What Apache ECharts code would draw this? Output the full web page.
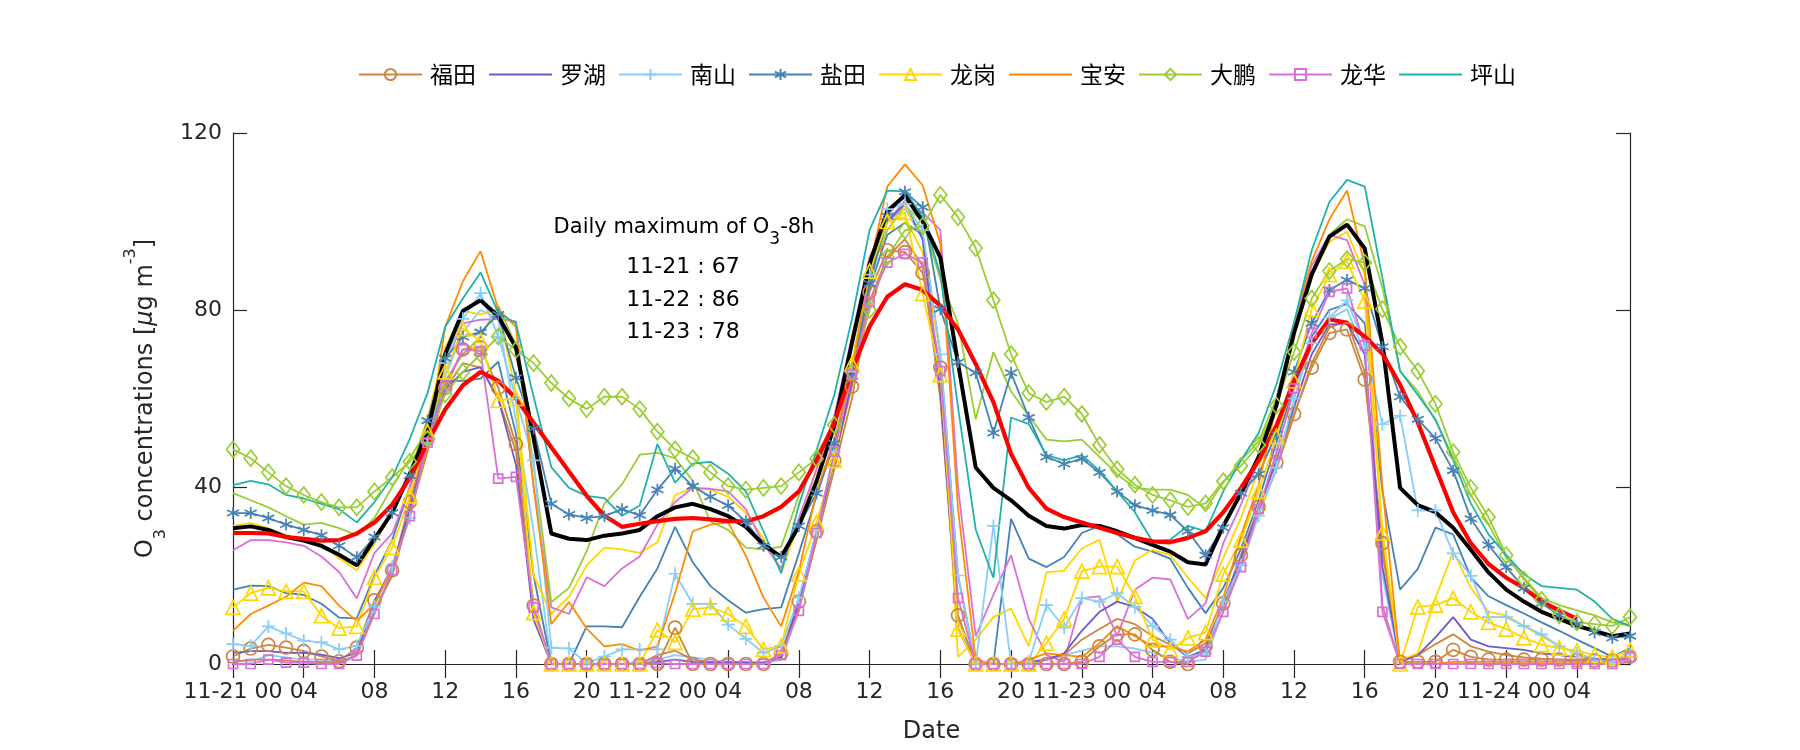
<!DOCTYPE html>
<html>
<head>
<meta charset="utf-8">
<script src="https://cdn.jsdelivr.net/npm/echarts@6/dist/echarts.min.js"></script>
<style>html,body{margin:0;padding:0;background:#fff;}#c{width:1800px;height:750px;}</style>
</head>
<body>
<div id="c"></div>
<script>
const categories = [
'11-21 00','11-21 01','11-21 02','11-21 03','11-21 04','11-21 05','11-21 06','11-21 07','11-21 08','11-21 09','11-21 10','11-21 11',
'11-21 12','11-21 13','11-21 14','11-21 15','11-21 16','11-21 17','11-21 18','11-21 19','11-21 20','11-21 21','11-21 22','11-21 23',
'11-22 00','11-22 01','11-22 02','11-22 03','11-22 04','11-22 05','11-22 06','11-22 07','11-22 08','11-22 09','11-22 10','11-22 11',
'11-22 12','11-22 13','11-22 14','11-22 15','11-22 16','11-22 17','11-22 18','11-22 19','11-22 20','11-22 21','11-22 22','11-22 23',
'11-23 00','11-23 01','11-23 02','11-23 03','11-23 04','11-23 05','11-23 06','11-23 07','11-23 08','11-23 09','11-23 10','11-23 11',
'11-23 12','11-23 13','11-23 14','11-23 15','11-23 16','11-23 17','11-23 18','11-23 19','11-23 20','11-23 21','11-23 22','11-23 23',
'11-24 00','11-24 01','11-24 02','11-24 03','11-24 04','11-24 05','11-24 06','11-24 07'];
const xTickLabels = ['11-21 00','04','08','12','16','20','11-22 00','04','08','12','16','20',
  '11-23 00','04','08','12','16','20','11-24 00','04'];
const yTicks = [0, 40, 80, 120];
const annotationLines = ['11-21 : 67', '11-22 : 86', '11-23 : 78'];

// district series (marked, in legend)
const futian = [1.7,3.5,4.3,3.7,2.9,1.7,0.6,3.7, 14.4,21.2,36.6,50.9,62.4,71.1,71.5,62.4, 49.7,13.2,0,0,0,0,0,0,
  0,8.2,0,0,0,0,0,2.5, 14.1,30,46,62.7,84.1,93.5,93.1,88.4, 67,11,0,0,0,0,0,0,
  0.5,4,6.7,6.7,3.2,0.5,0,4, 13.7,24.6,35.5,45.6,56.5,67,74.8,75.6, 64.3,27.3,0.5,0.5,0.5,3.2,1.6,1,
  1,1,1,1,0.8,0.8,0.8,1.6];
const luohu = [2.5,2.9,2.9,2.5,2.5,2.1,1.3,2.5, 14,22,35,50,62,66,67.1,60, 45,10,0,0,0,0,0,0,
  0.5,1,0.5,0.3,0.3,0.3,0.3,1.5, 14,30,46,64,88,100,104,96, 62,8,0,0,0,0.5,1,2.4,
  7.5,11.8,14.1,12.9,10.2,4.7,1.6,3.2, 14,24,35,46,58,70,76.7,77, 70,22,0.5,2,6,10.6,5.5,4,
  3.6,3.2,2.4,2,1.5,1.2,1,1.5];
const nanshan = [4.5,4.1,8.5,6.9,5.3,4.9,3.3,4.1, 13,22,33,50,68,78,83.8,74, 60,46,3.7,3.5,0.2,1.7,3.3,3.3,
  3.3,20.4,13.6,13.6,8.9,5.7,2.5,4.1, 15,30,48,66,88,102.8,104,98, 70,20,0,31.2,0,0.5,13.3,8.2,
  14.9,14.1,16,12.9,8.6,5.5,1.6,2.4, 14.1,22.3,33.5,44.4,60,72.5,78.3,82.2, 72,54.2,56.1,34.7,34.7,25,19.9,10.6,
  10.6,8.6,6.7,4,2.4,0.9,0.5,2.4];
const yantian = [34.1,34.1,33,31.5,30.3,29.1,26.7,24.1, 28.7,34.2,42.6,55,69.1,73.9,75,79, 64.7,53.2,36.2,33.8,33,33.4,35,33.6,
  39.4,44.1,40.2,37.8,35.8,32.2,26.7,24.2, 31.2,38.6,49.9,65,86,101.2,106.7,103.2, 80.2,68.2,65.8,52.2,65.8,55.7,46.8,45.2,
  46.4,43.3,39,35.9,34.7,33.7,30,24.6, 30.8,38.6,42.9,52,66,77,84.5,86.8, 84.9,71.7,60.4,55.3,51,43.7,32.8,26.9,
  21.9,17.2,13.7,11,9,7.1,5.9,6.3];
const longgang = [12.8,16,17.2,16.4,16.4,10.9,8.1,8.5, 19.6,26.3,38,52.5,66,75.8,73,59.6, 60,11.6,0,0,0,0,0,0,
  7.7,4.9,12.4,12.8,11.3,8.5,3.3,4.1, 20.3,32,46,67.8,88.8,100,102,83.7, 65.4,7.9,0,0,0,0,4.7,10.2,
  21,22,22,15.3,5.5,3.2,5.9,7.1, 20.3,28,39,51.4,64,80.2,88,91, 82,29.6,0,12.9,13.3,14.9,11.8,9.4,
  7.9,5.9,4.4,3.6,3,2,1.6,3.2];
const baoan = [7.5,11.3,13.2,15.2,18.4,17.6,13.2,9.7, 13.6,21.5,33.4,49.3,76.2,86.5,93.3,80.2, 76.2,40,9,14,8,4,4.5,3,
  4,16,30,31.5,32,24.5,15,8.5, 21,39,50.7,66.2,89.6,107.9,112.9,108.2, 95,35,1,0,0,1,2.4,2,
  1.6,4.7,8.6,6.3,4,4,2.8,5.5, 15,29,40.5,58.4,77,91,100.5,107, 90,40,0,0,0,0.5,0.5,0.5,
  0.5,0.5,0.5,0.5,0.5,0.5,0.5,1];
const dapeng = [48.5,46.5,43.3,40.2,38.2,36.6,35.4,35.4, 39,42.2,45.7,50.9,61,66,70,74, 71,68,63.5,60,57.6,60.4,60.4,57.6,
  52.5,48.5,46.5,43.3,40.2,39.4,39.8,40.2, 43.3,46.4,54,66,80,92,98,99, 106,101,94,82.2,70,61.2,59.2,60.4,
  56.5,49.5,44,40.5,38.2,37,35.5,36.3, 41.3,44.8,49.5,58.4,70.5,82.6,88.8,91.5, 90.7,80.2,71.7,66.2,58.8,47.9,39.8,33.2,
  24.6,19.1,14.5,11,9.4,9,8.6,10.6];
const longhua = [0,0,1,0.3,0.3,0,0,1.9, 11.3,21.2,33.4,50,63,71.1,70.7,41.9, 42.3,12.8,0,0,0,0,0,0,
  0.2,0,0,0,0,0,0,2, 12,29.6,48,65.4,81.8,90.7,92.7,90.7, 66.2,14.9,0,0,0,0,0,0,
  0,1.6,5.5,1.6,0.5,0.5,0.5,2.8, 11.8,21.9,35,47.5,62.3,74.8,84.1,84.9, 72,11.8,0,0,0,0,0,0,
  0,0,0,0,0,0,0,1.6];
const pingshan = [40.4,41.4,40.6,38.2,37.4,36.2,35,32, 36.6,42.2,50.9,61.2,76.2,82.6,88.5,79.4, 77,60.4,44.5,39.8,38,37.5,33.5,35.8,
  49.7,41,45.3,45.7,43,39,30,20.5, 35.9,48.3,60.8,77.9,98.1,107,106.8,101.2, 88,58,30.4,19.5,55.7,54.2,47.2,46,
  47.2,43.7,39,34.3,27.7,28.1,31.2,30, 39,46,52.2,63.1,77.1,93.5,104.4,109.4, 107.9,87.2,66.2,60.8,55.3,46,36.3,29.3,
  24.6,20.3,17.6,17.2,16.8,14.1,10.2,8.6];

// second stations (unmarked, not in legend)
const futian2 = [0.5,1,1,0.8,0.5,0.5,0.3,2, 12,20,34,48,62,68,67,60, 48,12,0,0,0,0,0,0,
  2,3,1,0.5,0.5,0.3,0.3,1.5, 13,28,44,60,82,92,96,90, 60,8,0,0,0,0,1,2,
  5.5,7.9,10.2,9,6.3,4.4,2.4,4.7, 13,23,34,44,56,68,76,77.5, 66,25,0.5,2,4.5,6.7,4,2.8,
  2,1.5,1.2,1,1,0.8,0.8,1.5];
const nanshan2 = [1,0.5,2,1.5,1,1,0.5,2, 12,20,35,50,65,75,80,78, 55,30,0,0,0,0,0,0.5,
  1,2,1.5,1,0.5,0.5,0,1, 12,28,46,64,86,100,103,96, 60,10,0,0,0,0,1,2,
  3,4,4,3.5,2.5,1.5,0.5,1, 12,22,34,48,62,72,78,80.2, 70,20,0,0,0,0,0,0,
  0,0,0,0,0,0,0,0.5];
const yantian2 = [16.8,17.7,17.6,16,15.6,13.6,10.5,10.3, 20,28,40,52,64,64,64.5,68.3, 52,20,0,0,8.5,8.5,8.3,15.2,
  21.6,31,23,17.6,14.4,11.6,12.4,12.8, 25,38,50,66,85,97,99.7,97, 70,20,0,0,32.8,23.8,21.9,24.2,
  29.6,31.2,29.3,26.5,25.4,23.8,17.2,11.5, 17.2,26,37,50,63,74,80,81.4, 77,39,16.8,21.5,30.8,29.3,19.5,15.3,
  13.3,11.4,9.4,7.5,5.5,3.6,1.6,3.6];
const longgang2 = [31.2,31.9,30.7,29.1,28.3,27.1,23.9,21.2, 27.1,34.2,43,55.6,71.5,79.8,79,80.2, 61.2,20,11.3,15.2,22.3,26.3,25.9,25.1,
  27.5,38.2,39.8,39.4,37.8,34.2,28.3,20.7, 32,44,56,72,90,100,101,93, 70,1.6,5.5,10.6,12.5,4,20.7,21.1,
  26.1,28.1,14.1,23.4,25.8,24.6,19.5,14.9, 24,33,44,58,75,88,95.4,97.7, 88,30,0.9,2.4,14.9,25.4,17.2,11.8,
  11,8.6,6.3,4,2.4,1.2,0.9,2.4];
const dapeng2 = [38.6,37,35.4,33.4,31.5,31.9,30.7,29.1, 33,40,46.5,53,64,70,74,81, 72,45,14,17.2,25.5,36.2,40.6,47.3,
  47.7,46.5,41.4,32.2,30.3,26.3,25.9,26.5, 38,47.5,53.8,68,88,98,103.6,100, 87,77,55.3,70.5,61.6,56.1,50.7,50.3,
  50.7,46.8,42.9,39.8,39.4,39.4,38.2,35.1, 41,46,50.3,60,75,88,97,100.5, 98.9,85,66.2,61.6,55,46.8,38.2,31.6,
  24,19.5,14.9,13.3,12.1,11,9.4,8.6];
const longhua2 = [25.7,28,28,27.5,26.7,24.3,20.8,14.8, 25.1,29.5,40,52,68,77,77.8,78, 77.4,40,12.8,11.3,19.6,17.6,21.6,24.3,
  31.5,36.6,39.8,39.6,39,35,27.1,21.6, 33,44,56,74,92,100,104.7,102, 98.1,40,6.3,15.6,24.6,10.2,2,0.5,
  14.9,15.3,6.3,16.8,19.5,19.1,10.2,13.7, 27.3,36,46,60,76,90,97,95.8, 85.7,13.3,0,0,0,0,0,0,
  0,0,0,0,0,0,0,0.5];

// city mean and its 8-h running mean
const cityMean = [30.7,31.1,30.3,28.7,27.9,26.7,24.7,22.3, 28.3,34.2,43,52.5,70,79.8,82.2,78.6, 71.5,51,29.5,28.3,28,29,29.5,30.3,
  33.4,35.4,36.2,35,33.4,31,27,24.2, 31.2,41.3,53.8,72.5,90.4,102.4,105.9,100, 91.9,68,44.4,39.8,37,33.5,31.2,30.6,
  31.4,31.2,30,28.5,26.9,25.4,23,22.5, 31.2,38.6,46.8,58.4,74.8,88,96.6,99.3, 93.9,72.5,39.8,35.9,34.3,30.8,25.8,20.7,
  16.8,14.1,11.8,10.2,8.6,7.5,6.3,6.9];
const mean8h = [29.6,29.6,29.5,28.7,28.3,27.9,28,29.5, 32,36,42,50,57.5,63,66,64, 60,54.5,49,43.5,38,33.5,31,31.7,
  32.3,32.8,33,32.7,32.3,32.2,33.4,35.5, 39,46,54.5,66.2,76.3,83,85.8,84.5, 81,75.6,67.8,59.2,47.5,39.8,35.1,33.2,
  32,30.8,29.6,28.5,27.7,27.5,28.5,30, 34.3,39.8,46,53.8,63.9,72.5,77.9,77.1, 74,70.1,63.1,54.6,44.4,34.3,27.3,22.6,
  19.5,17.2,14.1,12.1,10.2];

const C = {fu:'#CD853F', lu:'#6A5ACD', ns:'#87CEFA', yt:'#4682B4', lg:'#FFD700', ba:'#FF8C00', dp:'#9ACD32', lh:'#DA70D6', ps:'#20B2AA'};
const plusPath = 'path://M5 0 L5 10 M0 5 L10 5';
const starPath = 'path://M5 0 L5 10 M0.67 2.5 L9.33 7.5 M0.67 7.5 L9.33 2.5';
const mk = (name, data, color, symbol, size, width) => ({
  name, type: 'line', data,
  symbol: symbol || 'circle', symbolSize: size || 10,
  showSymbol: !!symbol, showAllSymbol: true, silent: true, animation: false,
  lineStyle: {color, width: width || 1.8},
  itemStyle: symbol
    ? {color: 'rgba(0,0,0,0)', borderColor: color, borderWidth: 1.7}
    : {color: 'rgba(0,0,0,0)', borderColor: 'rgba(0,0,0,0)', borderWidth: 0},
  emphasis: {disabled: true}
});

const legendNames = ['福田','罗湖','南山','盐田','龙岗','宝安','大鹏','龙华','坪山'];
const series = [
  mk('南山_2', nanshan2, C.ns), mk('福田_2', futian2, C.fu), mk('盐田_2', yantian2, C.yt),
  mk('龙岗_2', longgang2, C.lg), mk('龙华_2', longhua2, C.lh), mk('大鹏_2', dapeng2, C.dp),
  mk('福田', futian, C.fu, 'circle', 13),
  mk('罗湖', luohu, C.lu),
  mk('南山', nanshan, C.ns, plusPath, 13),
  mk('盐田', yantian, C.yt, starPath, 12),
  mk('龙岗', longgang, C.lg, 'triangle', 14),
  mk('宝安', baoan, C.ba),
  mk('大鹏', dapeng, C.dp, 'diamond', [13, 16]),
  mk('龙华', longhua, C.lh, 'rect', 9),
  mk('坪山', pingshan, C.ps),
  mk('mean', cityMean, '#000000', null, null, 4),
  mk('O3-8h', mean8h, '#FF0000', null, null, 4.2)
];

const axisCol = '#262626';
const font = 'DejaVu Sans';
const chart = echarts.init(document.getElementById('c'), null, {renderer: 'canvas'});
chart.setOption({
  backgroundColor: '#ffffff',
  animation: false,
  legend: {
    data: legendNames, left: 353, top: 58, itemWidth: 63, itemHeight: 14, itemGap: 12,
    textStyle: {fontFamily: 'Noto Sans CJK SC', fontSize: 23, color: '#000', padding: [0,0,0,3]},
    selectedMode: false
  },
  grid: {left: 233, right: 170, top: 133, bottom: 86, containLabel: false},
  xAxis: [{
    type: 'category', data: categories, boundaryGap: false,
    axisLine: {lineStyle: {color: axisCol, width: 1.2}},
    axisTick: {inside: true, interval: 3, length: 14, lineStyle: {color: axisCol, width: 1.2}},
    axisLabel: {interval: 3, margin: 17, color: axisCol, fontFamily: font, fontSize: 22,
      formatter: (v, i) => (i % 4 === 0 ? xTickLabels[i / 4] : '')},
    splitLine: {show: false},
    name: 'Date', nameLocation: 'middle', nameGap: 56,
    nameTextStyle: {fontFamily: font, fontSize: 24, color: axisCol}
  }, {
    type: 'category', data: categories, boundaryGap: false, position: 'top',
    axisLine: {lineStyle: {color: axisCol, width: 1.2}},
    axisTick: {inside: true, interval: 3, length: 14, lineStyle: {color: axisCol, width: 1.2}},
    axisLabel: {show: false}, splitLine: {show: false}
  }],
  yAxis: [{
    type: 'value', min: yTicks[0], max: yTicks[yTicks.length - 1], interval: yTicks[1] - yTicks[0],
    axisLine: {show: true, lineStyle: {color: axisCol, width: 1.2}},
    axisTick: {show: true, inside: true, length: 14, lineStyle: {color: axisCol, width: 1.2}},
    axisLabel: {margin: 11, color: axisCol, fontFamily: font, fontSize: 22},
    splitLine: {show: false},
    name: '{n|O}{sub|3}{n| concentrations [}{it|μ}{n|g m}{sup|-3}{n|]}',
    nameLocation: 'middle', nameGap: 60, nameRotate: 90,
    nameTextStyle: {
      fontFamily: font, fontSize: 24, color: axisCol,
      rich: {
        n: {fontFamily: font, fontSize: 24, lineHeight: 46, color: axisCol},
        it: {fontFamily: font, fontSize: 24, lineHeight: 46, fontStyle: 'italic', color: axisCol},
        sub: {fontFamily: font, fontSize: 16, lineHeight: 16, verticalAlign: 'bottom', color: axisCol},
        sup: {fontFamily: font, fontSize: 16, lineHeight: 38, verticalAlign: 'top', color: axisCol}
      }
    }
  }, {
    type: 'value', position: 'right', min: yTicks[0], max: yTicks[yTicks.length - 1], interval: yTicks[1] - yTicks[0],
    axisLine: {show: true, lineStyle: {color: axisCol, width: 1.2}},
    axisTick: {show: true, inside: true, length: 14, lineStyle: {color: axisCol, width: 1.2}},
    axisLabel: {show: false}, splitLine: {show: false}
  }],
  graphic: [
    {type: 'text', x: 684, y: 228, silent: true, style: {
      text: '{n|Daily maximum of O}{sub|3}{n|-8h}', align: 'center', verticalAlign: 'middle',
      fill: '#000', fontFamily: font, fontSize: 21,
      rich: {
        n: {fontFamily: font, fontSize: 21, lineHeight: 40, fill: '#000'},
        sub: {fontFamily: font, fontSize: 17, lineHeight: 18, verticalAlign: 'bottom', fill: '#000'}
      }}},
    {type: 'text', x: 683, y: 267, silent: true, style: {text: annotationLines[0], align: 'center', verticalAlign: 'middle', fill: '#000', fontFamily: font, fontSize: 22}},
    {type: 'text', x: 683, y: 300, silent: true, style: {text: annotationLines[1], align: 'center', verticalAlign: 'middle', fill: '#000', fontFamily: font, fontSize: 22}},
    {type: 'text', x: 683, y: 332, silent: true, style: {text: annotationLines[2], align: 'center', verticalAlign: 'middle', fill: '#000', fontFamily: font, fontSize: 22}}
  ],
  series
});
</script>
</body>
</html>
